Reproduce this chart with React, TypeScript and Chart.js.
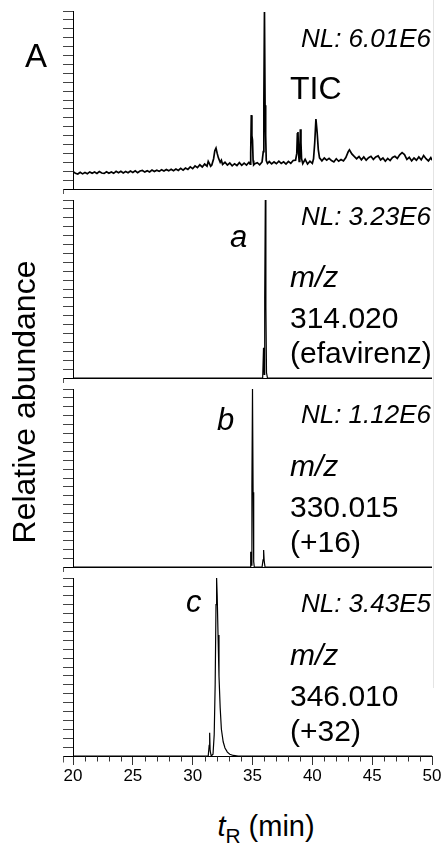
import React, { useEffect, useRef } from "react";
import { Chart, registerables } from "chart.js";

Chart.register(...registerables);

// ---------- data ----------
const xTickValues = [20, 25, 30, 35, 40, 45, 50];
const yTickStep = 5;

// TIC (relative abundance %)
const ticTime = [
  20.0, 20.2, 20.4, 20.6, 20.8, 21.0, 21.2, 21.4, 21.6, 21.8, 22.0, 22.2, 22.4, 22.6, 22.8, 23.0, 23.2, 23.4, 23.6, 23.8,
  24.0, 24.2, 24.4, 24.6, 24.8, 25.0, 25.2, 25.4, 25.6, 25.8, 26.0, 26.2, 26.4, 26.6, 26.8, 27.0, 27.2, 27.4, 27.6, 27.8,
  28.0, 28.2, 28.4, 28.6, 28.8, 29.0, 29.2, 29.4, 29.6, 29.8, 30.0, 30.2, 30.4, 30.6, 30.8, 31.0, 31.2,
  31.3, 31.4, 31.5, 31.6, 31.75, 31.85, 31.95, 32.05, 32.15, 32.3, 32.4, 32.5, 32.7, 32.9, 33.1, 33.3, 33.5, 33.7, 33.9, 34.1, 34.3, 34.5, 34.7, 34.8,
  34.85, 34.9, 34.95, 35.0, 35.05, 35.1, 35.2, 35.4, 35.6, 35.8, 35.9, 35.95, 36.0, 36.05, 36.1, 36.15, 36.25, 36.4,
  36.6, 36.8, 37.0, 37.2, 37.4, 37.6, 37.8, 38.0, 38.2, 38.4, 38.6, 38.7, 38.75, 38.8, 38.85, 38.9, 38.95, 39.0, 39.05, 39.1, 39.2, 39.4, 39.6, 39.8, 40.0,
  40.1, 40.2, 40.3, 40.4, 40.5, 40.6, 40.8, 41.0, 41.2, 41.4, 41.6, 41.8, 42.0, 42.2, 42.4, 42.6, 42.8, 43.0,
  43.1, 43.3, 43.5, 43.7, 43.9, 44.1, 44.3, 44.5, 44.7, 44.9, 45.1, 45.3, 45.5, 45.7, 45.9, 46.1, 46.3, 46.5, 46.7, 46.9,
  47.1, 47.3, 47.5, 47.7, 47.9, 48.1, 48.3, 48.5, 48.7, 48.9, 49.1, 49.3, 49.5, 49.7, 49.9, 50.0,
];
const ticValue = [
  9.8, 8.8, 8.4, 9.4, 8.5, 9.3, 8.6, 9.6, 8.8, 9.5, 8.7, 9.8, 9.0, 8.8, 9.7, 8.9, 9.6, 8.8, 9.9, 9.1,
  10.0, 9.0, 9.8, 9.1, 10.1, 9.3, 10.2, 9.2, 10.1, 10.4, 9.5, 10.3, 9.6, 10.6, 9.8, 10.5, 9.9, 10.8, 10.1, 11.0,
  10.2, 11.1, 10.3, 11.2, 10.4, 11.6, 10.6, 11.8, 11.0, 12.4, 11.4, 13.0, 12.0, 13.6, 12.4, 14.0, 12.8,
  15.5, 14.2, 12.8, 13.5, 17.0, 21.5, 23.0, 20.0, 17.5, 15.0, 16.2, 13.8, 15.0, 13.4, 14.6, 13.0, 14.2, 13.2, 14.8, 13.3, 14.5, 13.4, 15.0, 14.0,
  20, 41.5, 30, 27.5, 16, 13.5, 14.2, 14.8, 13.6, 15.2, 21, 48, 99.5, 47, 30, 16, 14.3, 15.4,
  14.1, 15.2, 14.2, 15.6, 14.4, 15.3, 14.0, 15.5, 14.4, 16.0, 16.2, 20, 31, 32, 20, 15.5, 18, 33.5, 26, 17, 14.2, 16.7, 14.0, 15.6, 14.4,
  17, 26, 39.3, 32, 22, 17.5, 15.8, 17.4, 16.2, 17.2, 16.0, 15.2, 17.0, 15.6, 16.6, 15.8, 17.7, 21.0,
  22.0, 19.7, 18.3, 17.0, 18.2, 16.4, 18.0, 16.2, 17.6, 18.4, 16.6, 18.0, 18.6, 16.3, 17.4, 15.6, 17.2, 16.0, 17.7, 18.4,
  17.2, 19.2, 20.4, 19.3, 16.6, 17.8, 15.8, 17.4, 16.2, 18.0, 16.4, 18.8, 17.0, 15.8, 17.6, 16.2,
];

// a: m/z 314.020 (efavirenz)
const aTime = [20, 35.85, 35.92, 35.97, 36.02, 36.07, 36.12, 36.17, 36.25, 50];
const aValue = [0, 0, 17, 2, 45, 100, 40, 3, 0, 0];

// b: m/z 330.015 (+16)
const bTime = [20, 34.8, 34.85, 34.9, 34.95, 35.0, 35.05, 35.1, 35.15, 35.8, 35.88, 35.93, 35.98, 36.05, 50];
const bValue = [0, 0, 8.6, 1, 45, 100, 42, 3, 0, 0, 4, 9.5, 3, 0, 0];

// c: m/z 346.010 (+32)
const cTime = [20, 31.3, 31.38, 31.42, 31.46, 31.55, 31.7, 31.8, 31.88, 31.95, 32.0, 32.05, 32.12, 32.2, 32.3, 32.4, 32.55, 32.7, 32.9, 33.1, 33.4, 33.8, 50];
const cValue = [0, 0, 6, 13, 3, 0, 1, 12, 40, 85, 100, 90, 68, 45, 27, 15, 8, 4.5, 2.2, 1, 0.3, 0, 0];

const nlLabels = ["NL: 6.01E6", "NL: 3.23E6", "NL: 1.12E6", "NL: 3.43E5"];
const traceLetters = ["", "a", "b", "c"];
const mzValues = ["", "314.020", "330.015", "346.010"];
const mzNotes = ["", "(efavirenz)", "(+16)", "(+32)"];

// ---------- layout ----------
const W = 443;
const PLOT_LEFT = 73;
const PLOT_RIGHT = 432;
const PANEL_TOPS = [11, 200, 389, 578];
const PANEL_H = 178;
const PAD = 5;
const XAXIS_H = 34;
const FONT = "'Liberation Sans', Arial, Helvetica, sans-serif";

const framePlugin = {
  id: "frame",
  afterDraw(chart: any, _args: any, opts: any) {
    const { ctx, chartArea } = chart;
    ctx.save();
    ctx.strokeStyle = "#000";
    ctx.lineWidth = 1;
    const y = Math.round(chartArea.bottom) + 0.5;
    const x0 = Math.round(chartArea.left) - 10 + 0.5;
    ctx.beginPath();
    ctx.moveTo(x0, y);
    ctx.lineTo(chartArea.right, y);
    ctx.stroke();
    ctx.strokeStyle = "#555";
    ctx.beginPath();
    ctx.moveTo(x0, y);
    ctx.lineTo(x0, y + 6);
    ctx.stroke();
    if (opts && opts.minor) {
      const xs = chart.scales.x;
      ctx.strokeStyle = "#333";
      for (let t = Math.ceil(xs.min); t <= xs.max; t++) {
        if (t % 5 === 0) continue;
        const px = Math.round(xs.getPixelForValue(t)) + 0.5;
        ctx.beginPath();
        ctx.moveTo(px, y);
        ctx.lineTo(px, y + 5);
        ctx.stroke();
      }
    }
    ctx.restore();
  },
};

function makeConfig(time: number[], values: number[], bottom: boolean, lw: number) {
  const pts = time.map((t, i) => ({ x: t, y: values[i] }));
  return {
    type: "line",
    data: {
      datasets: [
        {
          data: pts,
          borderColor: "#000",
          borderWidth: lw,
          pointRadius: 0,
          tension: 0,
          fill: false,
        },
      ],
    },
    plugins: [framePlugin],
    options: {
      animation: false,
      responsive: false,
      devicePixelRatio: 1,
      layout: { padding: { left: 0, right: W - PLOT_RIGHT, top: PAD, bottom: bottom ? 0 : PAD } },
      plugins: {
        legend: { display: false },
        tooltip: { enabled: false },
        frame: { minor: bottom },
      },
      scales: {
        x: {
          type: "linear",
          min: 20,
          max: 50,
          display: bottom,
          afterBuildTicks: (scale: any) => {
            scale.ticks = xTickValues.map((v) => ({ value: v }));
          },
          afterFit: (scale: any) => {
            scale.height = bottom ? XAXIS_H : 0;
          },
          border: { display: false },
          grid: { drawOnChartArea: false, drawTicks: true, tickLength: 9, color: "#333", tickColor: "#333" },
          ticks: {
            autoSkip: false,
            maxRotation: 0,
            padding: 1,
            color: "#000",
            font: { family: FONT, size: 17 },
            callback: (v: any) => String(v),
          },
        },
        y: {
          type: "linear",
          min: 0,
          max: 100,
          afterFit: (scale: any) => {
            scale.width = PLOT_LEFT;
          },
          ticks: { display: false, stepSize: yTickStep },
          border: { display: true, color: "#000", width: 1 },
          grid: { drawOnChartArea: false, drawTicks: true, tickLength: 10, tickColor: "#444", tickWidth: 1 },
        },
      },
    },
  };
}

const series = [
  { t: ticTime, v: ticValue, lw: 1.7 },
  { t: aTime, v: aValue, lw: 1.2 },
  { t: bTime, v: bValue, lw: 1.2 },
  { t: cTime, v: cValue, lw: 1.2 },
];

function txt(style: React.CSSProperties, content: React.ReactNode, key?: string) {
  return (
    <div
      key={key}
      style={{
        position: "absolute",
        fontFamily: FONT,
        lineHeight: 1,
        whiteSpace: "nowrap",
        color: "#000",
        ...style,
      }}
    >
      {content}
    </div>
  );
}

// baseline -> top for line-height 1 (Liberation Sans)
const topFor = (baseline: number, size: number) => baseline - 0.8465 * size;

export default function App() {
  const refs = [useRef<HTMLCanvasElement>(null), useRef<HTMLCanvasElement>(null), useRef<HTMLCanvasElement>(null), useRef<HTMLCanvasElement>(null)];

  useEffect(() => {
    const charts = series.map((s, i) => {
      const cv = refs[i].current!;
      return new Chart(cv, makeConfig(s.t, s.v, i === 3, s.lw) as any);
    });
    return () => charts.forEach((c) => c.destroy());
  }, []);

  const nlBase = [47, 225, 423, 612];
  const letterPos = [null, { left: 230, base: 247 }, { left: 217, base: 430 }, { left: 186, base: 612 }];

  return (
    <div style={{ position: "fixed", left: 0, top: 0, width: W, height: 848, background: "#fff", overflow: "hidden" }}>
      {PANEL_TOPS.map((top, i) => {
        const h = PAD + PANEL_H + (i === 3 ? XAXIS_H : PAD);
        return (
          <canvas
            key={"c" + i}
            ref={refs[i]}
            width={W}
            height={h}
            style={{ position: "absolute", left: 0, top: top - PAD, width: W, height: h }}
          />
        );
      })}
      <div style={{ position: "absolute", left: 433, top: 0, width: 1, height: 688, background: "#e4e4e4" }} />

      {txt({ left: 25, top: topFor(67, 33), fontSize: 33 }, "A", "A")}
      {txt({ left: 290, top: topFor(99, 32), fontSize: 32 }, "TIC", "TIC")}

      {nlLabels.map((s, i) =>
        txt({ right: W - 431, top: topFor(nlBase[i], 26), fontSize: 26, fontStyle: "italic" }, s, "nl" + i)
      )}

      {[1, 2, 3].map((i) => {
        const lp = letterPos[i]!;
        const top = PANEL_TOPS[i];
        return (
          <React.Fragment key={"p" + i}>
            {txt({ left: lp.left, top: topFor(lp.base, 31), fontSize: 31, fontStyle: "italic" }, traceLetters[i])}
            {txt({ left: 290, top: topFor(top + 87, 30), fontSize: 30, fontStyle: "italic" }, "m/z")}
            {txt({ left: 290, top: topFor(top + 128, 30), fontSize: 30 }, mzValues[i])}
            {txt({ left: 290, top: topFor(top + 163, 30), fontSize: 30 }, mzNotes[i])}
          </React.Fragment>
        );
      })}

      <div
        style={{
          position: "absolute",
          left: 24 - 200,
          top: 402 - 16,
          width: 400,
          height: 32,
          fontFamily: FONT,
          fontSize: 32,
          lineHeight: 1,
          textAlign: "center",
          whiteSpace: "nowrap",
          transform: "rotate(-90deg)",
          transformOrigin: "50% 50%",
        }}
      >
        Relative abundance
      </div>

      <div
        style={{
          position: "absolute",
          left: 266 - 150,
          top: topFor(837, 29),
          width: 300,
          fontFamily: FONT,
          fontSize: 29,
          lineHeight: 1,
          textAlign: "center",
          whiteSpace: "nowrap",
        }}
      >
        <i>t</i>
        <span style={{ fontSize: "0.72em", position: "relative", top: "0.3em" }}>R</span> (min)
      </div>
    </div>
  );
}
